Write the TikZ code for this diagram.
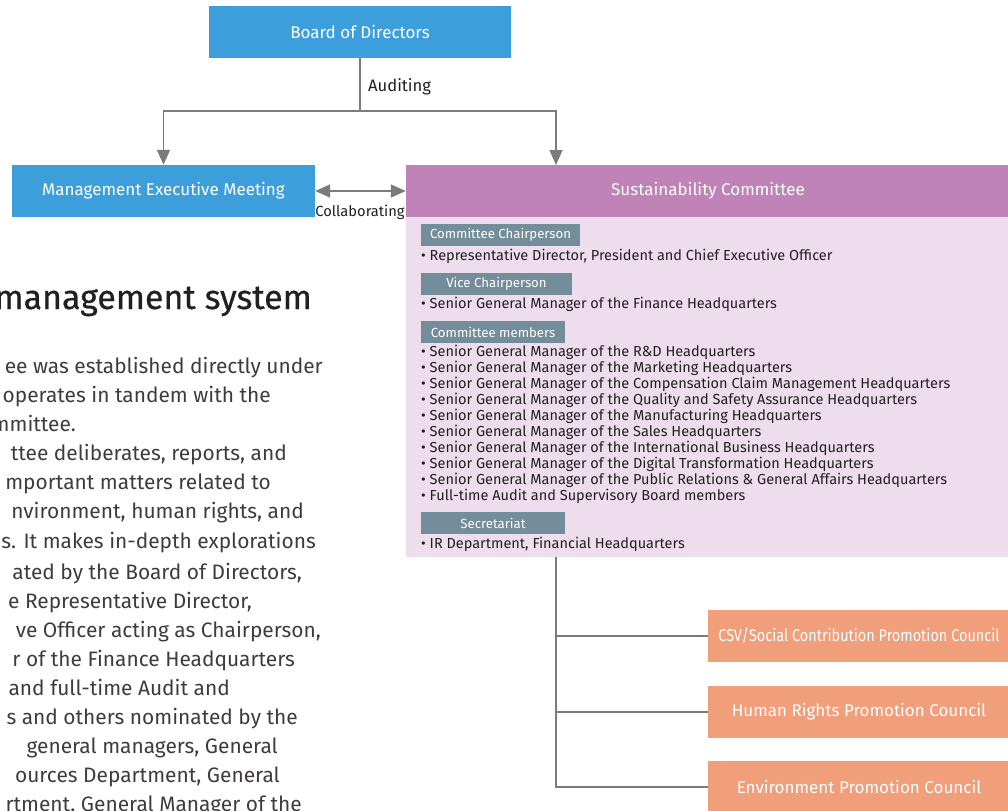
\documentclass[tikz,border=0pt]{standalone}
\usepackage{fontspec}
\setmainfont{Fira Sans}
\newfontfamily\condfont[FakeStretch=0.85]{Fira Sans}
\newfontfamily\headfont[FakeBold=0.6]{Fira Sans}
\usetikzlibrary{arrows.meta}
\definecolor{bdblue}{HTML}{3C9FDC}
\definecolor{scpurple}{HTML}{BF83B7}
\definecolor{sclight}{HTML}{EDDDED}
\definecolor{lblgray}{HTML}{738D9A}
\definecolor{cnorange}{HTML}{F19E7B}
\definecolor{lngray}{HTML}{7B7B7B}
\definecolor{txtdark}{HTML}{231F20}
\definecolor{bodytxt}{HTML}{403B3C}
\newcommand\fsz[1]{\fontsize{#1bp}{#1bp}\selectfont}
\tikzset{
  bluebox/.style={fill=bdblue, inner sep=0pt, text=white, font=\fsz{17}, minimum height=52bp},
  purplebox/.style={fill=scpurple, inner sep=0pt, text=white, font=\fsz{17}, minimum height=52bp},
  orangebox/.style={fill=cnorange, inner sep=0pt, text=white, font=\fsz{17}, minimum height=52bp, minimum width=302bp},
  lblbox/.style={fill=lblgray, inner sep=0pt, text=white, font=\fsz{13.2}, minimum height=22bp},
  itemtxt/.style={anchor=west, inner sep=0pt, text=txtdark, font=\fsz{14.5}},
  bodyline/.style={anchor=base east, inner sep=0pt, text=bodytxt, font=\fsz{20.9}},
  conn/.style={draw=lngray, line width=1.6bp},
  arr/.style={conn, -{Triangle[length=15bp, width=13bp]}},
  darr/.style={conn, {Triangle[length=15bp, width=13bp]}-{Triangle[length=15bp, width=13bp]}},
  lbl/.style={inner sep=0pt, text=txtdark, font=\fsz{16.6}}
}
\begin{document}
\begin{tikzpicture}[x=1bp,y=-1bp]
\useasboundingbox (0,0) rectangle (1008,811);
\clip (0,0) rectangle (1008,811);
% boxes
\node[bluebox, minimum width=302bp] (bod) at (360,32) {Board of Directors};
\node[bluebox, minimum width=303bp] (mem) at (163.5,191) {Management Executive Meeting};
\node[purplebox, minimum width=604bp] (sch) at (708,191) {Sustainability Committee};
\node[fill=sclight, inner sep=0pt, minimum width=604bp, minimum height=340bp] (sbody) at (708,387) {};
% labels inside committee
\node[lblbox, minimum width=159bp] (chair) at (500.5,235) {Committee Chairperson};
\node[itemtxt] (chairi) at (421,256) {• Representative Director, President and Chief Executive Officer};
\node[lblbox, minimum width=151bp] (vice) at (496.5,284) {Vice Chairperson};
\node[itemtxt] (vicei) at (421,304) {• Senior General Manager of the Finance Headquarters};
\node[lblbox, minimum width=144bp] (memb) at (493,332) {Committee members};
\foreach \t [count=\i] in {%
  {Senior General Manager of the R\&D Headquarters},
  {Senior General Manager of the Marketing Headquarters},
  {Senior General Manager of the Compensation Claim Management Headquarters},
  {Senior General Manager of the Quality and Safety Assurance Headquarters},
  {Senior General Manager of the Manufacturing Headquarters},
  {Senior General Manager of the Sales Headquarters},
  {Senior General Manager of the International Business Headquarters},
  {Senior General Manager of the Digital Transformation Headquarters},
  {Senior General Manager of the Public Relations \& General Affairs Headquarters},
  {Full-time Audit and Supervisory Board members}}
  \node[itemtxt] (m\i) at (421,{336+16*\i}) {• \t};
\node[lblbox, minimum width=144bp] (secr) at (493,523) {Secretariat};
\node[itemtxt] (secri) at (421,544) {• IR Department, Financial Headquarters};
% councils
\node[orangebox, font=\condfont\fsz{17}] (csv) at (859,636) {CSV/Social Contribution Promotion Council};
\node[orangebox] (hr) at (859,712) {Human Rights Promotion Council};
\node[orangebox] (env) at (859,787) {Environment Promotion Council};
% connectors
\coordinate (split) at (360,111);
\coordinate (scin) at (556,165);
\coordinate (junc) at (556,557);
\draw[conn] (bod.south) -- (split);
\draw[arr] (split) -| (mem.north);
\draw[arr] (split) -| (scin);
\draw[darr] (mem.east) -- (sch.west);
\draw[conn] (junc) |- (csv.west);
\draw[conn] (junc) |- (hr.west);
\draw[conn] (junc) |- (env.west);
\node[lbl, anchor=west] (aud) at (368,87) {Auditing};
\node[lbl, font=\fsz{14.7}] (coll) at (360,212) {Collaborating};
% left text
\node[anchor=base east, inner sep=0pt, text=txtdark, font=\headfont\fsz{34}] (head) at (312,309) {management system};
\node[bodyline] (l1) at (323,373) {ee was established directly under};
\node[bodyline] (l2) at (271,402) {operates in tandem with the};
\node[bodyline] (l3) at (76,431) {mmittee.};
\node[bodyline] (l4) at (287,460) {ttee deliberates, reports, and};
\node[bodyline] (l5) at (271,489) {mportant matters related to};
\node[bodyline] (l6) at (304,518) {nvironment, human rights, and};
\node[bodyline] (l7) at (316,548) {s. It makes in-depth explorations};
\node[bodyline] (l8) at (302,579) {ated by the Board of Directors,};
\node[bodyline] (l9) at (252,608) {e Representative Director,};
\node[bodyline] (l10) at (321,637) {ve Officer acting as Chairperson,};
\node[bodyline] (l11) at (295,666) {r of the Finance Headquarters};
\node[bodyline] (l12) at (230,695) {and full-time Audit and};
\node[bodyline] (l13) at (298,724) {s and others nominated by the};
\node[bodyline] (l14) at (278,753) {general managers, General};
\node[bodyline] (l15) at (280,782) {ources Department, General};
\node[bodyline] (l16) at (302,811) {rtment, General Manager of the};
\end{tikzpicture}
\end{document}
